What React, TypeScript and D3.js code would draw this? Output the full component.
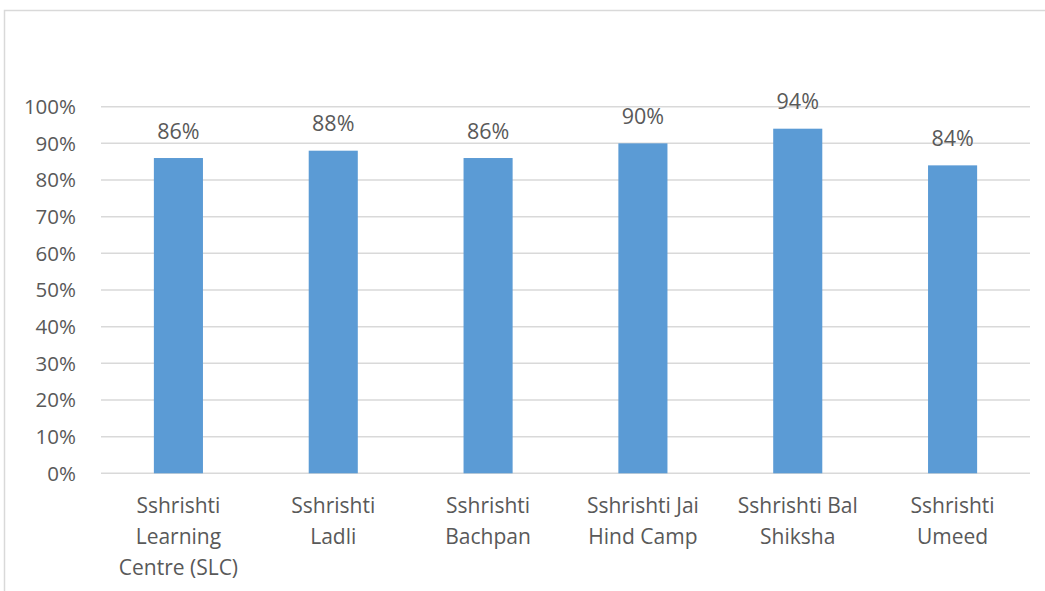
import React from "react";
import * as d3 from "d3";

const categories = [
  "Sshrishti Learning Centre (SLC)",
  "Sshrishti Ladli",
  "Sshrishti Bachpan",
  "Sshrishti Jai Hind Camp",
  "Sshrishti Bal Shiksha",
  "Sshrishti Umeed",
];
const categoryLines = [
  ["Sshrishti", "Learning", "Centre (SLC)"],
  ["Sshrishti", "Ladli"],
  ["Sshrishti", "Bachpan"],
  ["Sshrishti Jai", "Hind Camp"],
  ["Sshrishti Bal", "Shiksha"],
  ["Sshrishti", "Umeed"],
];
const values = [0.86, 0.88, 0.86, 0.9, 0.94, 0.84];
const yTicks = [0, 0.1, 0.2, 0.3, 0.4, 0.5, 0.6, 0.7, 0.8, 0.9, 1.0];

const W = 1045;
const H = 591;
const FONT = "'Open Sans', 'Liberation Sans', sans-serif";
const TEXT = "#595959";
const GRID = "#D9D9D9";
const BAR = "#5B9BD5";

export default function App() {
  const x = d3.scaleBand<string>().domain(categories).range([101, 1030]).paddingInner(0.683).paddingOuter(0.3415);
  const y = d3.scaleLinear().domain([0, 1]).range([473.3, 106.7]);
  const fmt = d3.format(".0%");
  return (
    <svg width={W} height={H} style={{ position: "fixed", left: 0, top: 0, background: "#fff" }}>
      <rect x={4.5} y={10.5} width={W + 10} height={H + 10} fill="#fff" stroke={GRID} strokeWidth={1.5} />
      {yTicks.map((t) => (
        <g key={t}>
          <line x1={101} x2={1030} y1={y(t)} y2={y(t)} stroke={GRID} strokeWidth={1.5} />
          <text x={76} y={y(t)} dy="0.36em" textAnchor="end" fontFamily={FONT} fontSize={20.5} fill={TEXT}>
            {fmt(t)}
          </text>
        </g>
      ))}
      {categories.map((c, i) => (
        <g key={c}>
          <rect x={x(c)} y={y(values[i])} width={x.bandwidth()} height={y(0) - y(values[i])} fill={BAR} />
          <text x={(x(c) as number) + x.bandwidth() / 2} y={y(values[i]) - 19.5} textAnchor="middle" fontFamily={FONT} fontSize={21.5} fill={TEXT}>
            {fmt(values[i])}
          </text>
          <text textAnchor="middle" fontFamily={FONT} fontSize={21} fill={TEXT}>
            {categoryLines[i].map((l, j) => (
              <tspan key={j} x={(x(c) as number) + x.bandwidth() / 2} y={513 + j * 31}>
                {l}
              </tspan>
            ))}
          </text>
        </g>
      ))}
    </svg>
  );
}
